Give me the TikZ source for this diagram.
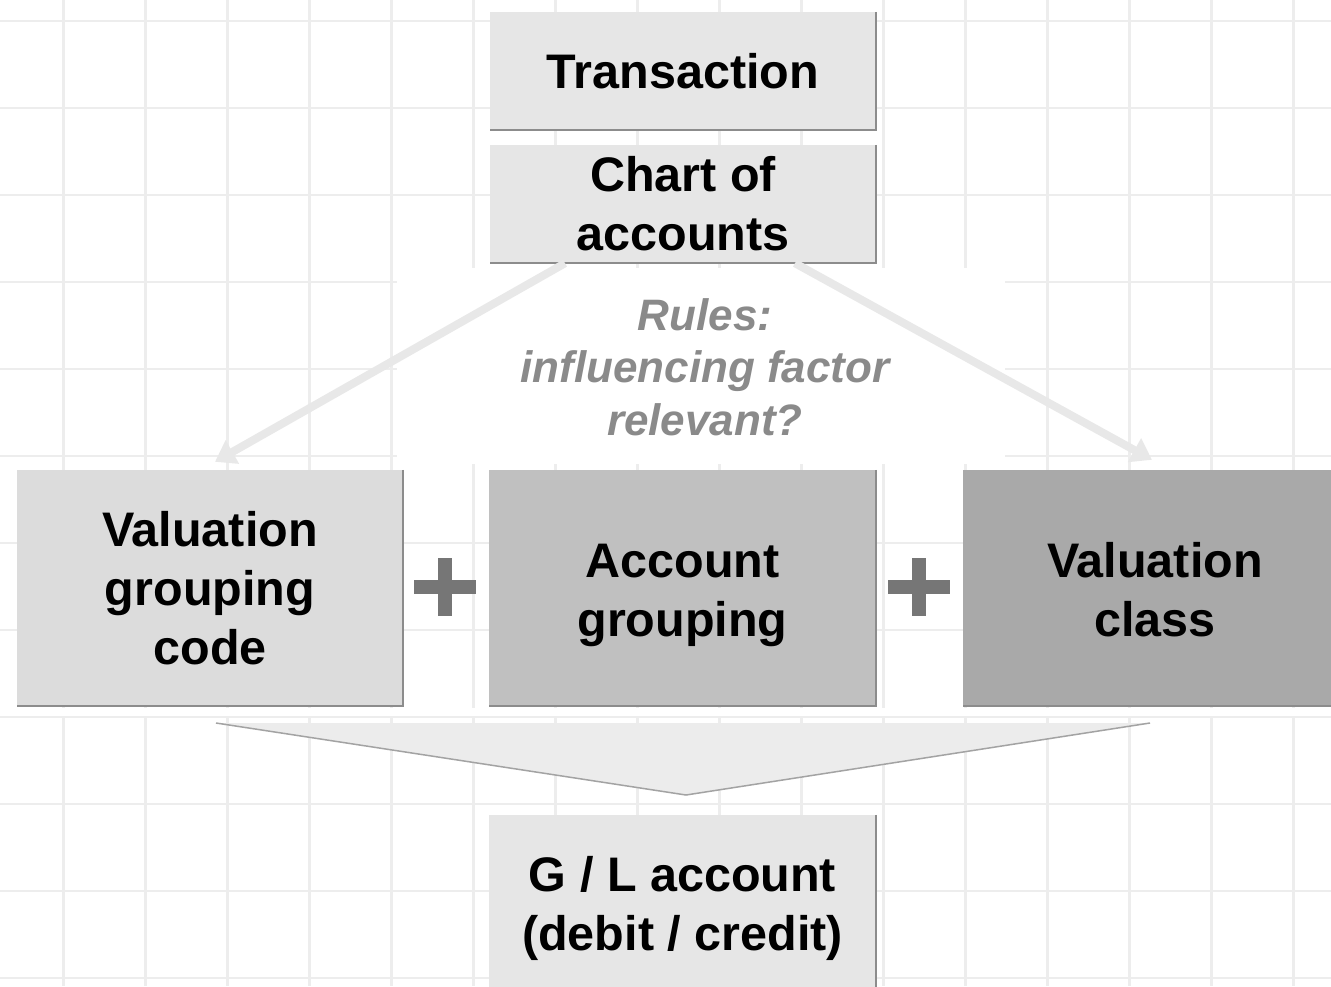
\documentclass[tikz,border=0pt]{standalone}
\usepackage{fontspec}
\setmainfont{Liberation Sans}
\usetikzlibrary{arrows.meta}
\definecolor{gridc}{HTML}{EDEDED}
\definecolor{boxA}{HTML}{E6E6E6}
\definecolor{boxB}{HTML}{DCDCDC}
\definecolor{boxC}{HTML}{C0C0C0}
\definecolor{boxD}{HTML}{A9A9A9}
\definecolor{edgec}{HTML}{8C8C8C}
\definecolor{rulec}{HTML}{8A8A8A}
\definecolor{arrc}{HTML}{E8E8E8}
\definecolor{func}{HTML}{ECECEC}
\definecolor{plusc}{HTML}{767676}
\tikzset{
  boxbase/.style={inner sep=0pt, align=center, text=black,
    font=\bfseries\fontsize{48.5}{59}\selectfont},
  boxedge/.style={draw=edgec, line width=2.5pt},
  gridline/.style={draw=gridc, line width=2.5pt},
  flowarrow/.style={draw=arrc, line width=8pt,
    -{Triangle[width=26pt,length=20pt]}},
  plusbar/.style={draw=plusc, line width=14pt},
}
\begin{document}
\begin{tikzpicture}[x=1pt,y=-1pt]
\clip (0,0) rectangle (1331,986);
\fill[white] (0,0) rectangle (1331,986);
% grid
\foreach \i in {0,...,15} {
  \draw[gridline] ({63.5+82*\i},0) -- ({63.5+82*\i},986);
}
\foreach \j in {0,...,11} {
  \draw[gridline] (0,{21+87*\j}) -- (1331,{21+87*\j});
}
\fill[white] (397,268) rectangle (1005,464);
\fill[white] (0,708) rectangle (1331,716);

% boxes
\node[boxbase, fill=boxA, minimum width=386pt, minimum height=118pt] (trans) at (683,71) {Transaction};
\node[boxbase, fill=boxA, minimum width=386pt, minimum height=118pt] (chart) at (683,204) {Chart of\\accounts};
\node[boxbase, fill=boxB, minimum width=386pt, minimum height=236pt] (vgc) at (210,588) {Valuation\\grouping\\code};
\node[boxbase, fill=boxC, minimum width=387pt, minimum height=236pt] (ag) at (682.5,588) {};
\node[boxbase, fill=boxD, minimum width=384pt, minimum height=236pt] (vc) at (1155,588) {};
\node[boxbase, fill=boxA, minimum width=387pt, minimum height=180pt] (gl) at (682.5,905) {};

\foreach \n in {trans,chart,vgc,ag,vc,gl} {
  \draw[boxedge] (\n.north east) -- (\n.south east) -- (\n.south west);
}

\node[boxbase] (agtext) at (682.5,595) {Account\\grouping};
\node[boxbase] (vctext) at (1155,590) {Valuation\\class};
\node[boxbase] (gltext) at (682.5,908) {G / L account\\(debit / credit)};

% arrows
\draw[flowarrow] ([xshift=-118pt]chart.south) -- ([xshift=5pt,yshift=8pt]vgc.north);
\draw[flowarrow] ([xshift=112pt]chart.south) -- ([xshift=-3pt,yshift=10pt]vc.north);

% rules text
\node[font=\bfseries\itshape\fontsize{44}{52.5}\selectfont, text=rulec, align=center, inner sep=0pt] (rules) at (705,367) {Rules:\\influencing factor\\relevant?};

% plus signs
\coordinate (p1) at (445,587);
\coordinate (p2) at (919,587);
\foreach \p in {p1,p2} {
  \draw[plusbar] ([xshift=-31pt]\p) -- ([xshift=31pt]\p);
  \draw[plusbar] ([yshift=29pt]\p) -- ([yshift=-29pt]\p);
}

% funnel
\fill[func] (216,723) -- (1150,723) -- (686,795) -- cycle;
\draw[draw=edgec!80, line width=1.5pt] (216,723) -- (686,795) -- (1150,723);
\end{tikzpicture}
\end{document}
